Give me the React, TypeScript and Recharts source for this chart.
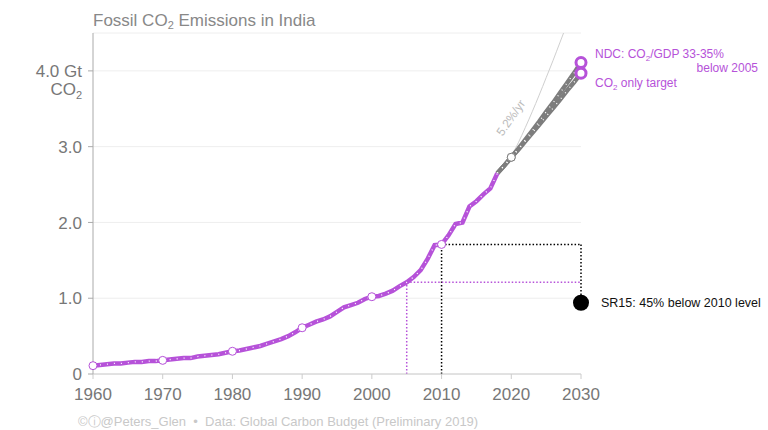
import React from 'react';
import {
  ComposedChart,
  Line,
  XAxis,
  YAxis,
  CartesianGrid,
  ReferenceLine,
  ReferenceDot,
} from 'recharts';

// India fossil CO2, Gt CO2, 1960-2018
const emissions = [
  0.11, 0.12, 0.13, 0.14, 0.14, 0.15, 0.16, 0.16, 0.17, 0.17,
  0.18, 0.19, 0.2, 0.21, 0.21, 0.23, 0.24, 0.25, 0.26, 0.28,
  0.3, 0.31, 0.33, 0.35, 0.37, 0.4, 0.43, 0.46, 0.5, 0.55,
  0.61, 0.65, 0.69, 0.72, 0.76, 0.82, 0.88, 0.91, 0.94, 0.99,
  1.02, 1.03, 1.06, 1.1, 1.16, 1.21, 1.28, 1.37, 1.52, 1.7,
  1.71, 1.83, 1.98, 2.0, 2.21, 2.28, 2.37, 2.45, 2.65,
];
const firstYear = 1960;

const projYears = [2018, 2019, 2020, 2021, 2022, 2023, 2024, 2025, 2026, 2027, 2028, 2029, 2030];
const ndcUpper = [2.65, 2.75, 2.86, 2.97, 3.09, 3.21, 3.33, 3.46, 3.58, 3.71, 3.84, 3.97, 4.11];
const ndcLower = [2.65, 2.75, 2.86, 2.96, 3.07, 3.18, 3.29, 3.4, 3.51, 3.62, 3.74, 3.85, 3.97];

const trendYears = [2020, 2021, 2022, 2023, 2024, 2025, 2026, 2027, 2028];
const trend = [2.87, 3.05, 3.25, 3.46, 3.68, 3.91, 4.14, 4.38, 4.62];

const sr15Target = 0.94;

const xTicks = [1960, 1970, 1980, 1990, 2000, 2010, 2020, 2030];
const yTicks = [0, 1, 2, 3, 4];

const purple = '#b652d9';
const gray = '#7d7d7d';
const font = '"Liberation Sans", Arial, sans-serif';

const valueAt = (y: number) => emissions[y - firstYear];

const data: any[] = [];
for (let y = firstYear; y <= 2030; y++) {
  const row: any = { year: y };
  if (y - firstYear < emissions.length) row.hist = emissions[y - firstYear];
  const p = projYears.indexOf(y);
  if (p >= 0) {
    row.upper = ndcUpper[p];
    row.lower = ndcLower[p];
  }
  const t = trendYears.indexOf(y);
  if (t >= 0) row.trend = trend[t];
  data.push(row);
}

const YTick = (props: any) => {
  const { x, y, payload } = props;
  const v = payload.value;
  const style = { fontSize: 17, fill: '#777', fontFamily: font };
  if (v === 4) {
    return (
      <text x={x} y={y} textAnchor="end" style={style}>
        <tspan x={x} dy="0.36em">4.0 Gt</tspan>
        <tspan x={x} dy="17.5">
          CO<tspan fontSize={11} dy="4">2</tspan>
        </tspan>
      </text>
    );
  }
  return (
    <text x={x} y={y} dy="0.36em" textAnchor="end" style={style}>
      {v === 0 ? '0' : v.toFixed(1)}
    </text>
  );
};

const histDot = (props: any) => {
  const { cx, cy, payload, index } = props;
  if (cy == null || payload.year % 10 !== 0) return <g key={'h' + index} />;
  return <circle key={'h' + index} cx={cx} cy={cy} r={4} fill="#fff" stroke={purple} strokeWidth={1} />;
};

const projDot = (props: any) => {
  const { cx, cy, payload, index } = props;
  if (cy == null) return <g key={'p' + index} />;
  if (payload.year === 2020)
    return <circle key={'p' + index} cx={cx} cy={cy} r={4} fill="#fff" stroke={gray} strokeWidth={1} />;
  if (payload.year === 2030)
    return <circle key={'p' + index} cx={cx} cy={cy} r={5} fill="#fff" stroke={purple} strokeWidth={3} />;
  return <g key={'p' + index} />;
};

const whiteDots = { stroke: '#fff', strokeWidth: 1.3, strokeDasharray: '1 6' };

export default function App() {
  const v2010 = valueAt(2010);
  const v2005 = valueAt(2005);
  return (
    <div style={{ position: 'absolute', left: 0, top: 0, width: 768, height: 430, fontFamily: font, background: '#fff' }}>
      <div style={{ position: 'absolute', left: 93, top: 12, fontSize: 17, lineHeight: 1, color: '#888' }}>
        Fossil CO<sub style={{ fontSize: 11, verticalAlign: -3 }}>2</sub> Emissions in India
      </div>
      <ComposedChart
        width={768}
        height={430}
        data={data}
        margin={{ top: 33, right: 187, bottom: 26, left: 0 }}
      >
        <CartesianGrid vertical={false} stroke="#eeeeee" />
        <XAxis
          dataKey="year"
          type="number"
          domain={[1960, 2030]}
          ticks={xTicks}
          height={30}
          axisLine={{ stroke: '#cccccc' }}
          tickLine={{ stroke: '#cccccc' }}
          tickSize={5}
          tickMargin={9}
          tick={{ fontSize: 17, fill: '#777', fontFamily: font }}
        />
        <YAxis
          type="number"
          domain={[0, 4.5]}
          ticks={yTicks}
          allowDataOverflow
          width={93}
          axisLine={{ stroke: '#aaaaaa' }}
          tickLine={{ stroke: '#aaaaaa' }}
          tickSize={5}
          tickMargin={6}
          tick={<YTick />}
        />
        <ReferenceLine segment={[{ x: 2010, y: 0 }, { x: 2010, y: v2010 }]} stroke="#000" strokeWidth={1.5} strokeDasharray="1.5 2" />
        <ReferenceLine segment={[{ x: 2010, y: v2010 }, { x: 2030, y: v2010 }]} stroke="#000" strokeWidth={1.5} strokeDasharray="1.5 2" />
        <ReferenceLine segment={[{ x: 2030, y: v2010 }, { x: 2030, y: sr15Target }]} stroke="#000" strokeWidth={1.5} strokeDasharray="1.5 2" />
        <ReferenceLine segment={[{ x: 2005, y: 0 }, { x: 2005, y: v2005 }]} stroke={purple} strokeWidth={1.5} strokeDasharray="1.5 2" />
        <ReferenceLine segment={[{ x: 2005, y: v2005 }, { x: 2030, y: v2005 }]} stroke={purple} strokeWidth={1.5} strokeDasharray="1.5 2" />

        <Line dataKey="trend" type="monotone" stroke="#cfcfcf" strokeWidth={1} dot={false} activeDot={false} isAnimationActive={false} />

        <Line dataKey="lower" stroke={gray} strokeWidth={4.5} dot={false} activeDot={false} isAnimationActive={false} />
        <Line dataKey="upper" stroke={gray} strokeWidth={4.5} dot={false} activeDot={false} isAnimationActive={false} />
        <Line dataKey="lower" {...whiteDots} dot={false} activeDot={false} isAnimationActive={false} />
        <Line dataKey="upper" {...whiteDots} dot={projDot} activeDot={false} isAnimationActive={false} />
        <Line dataKey="lower" stroke="none" dot={projDot} activeDot={false} isAnimationActive={false} />

        <Line dataKey="hist" stroke={purple} strokeWidth={4.5} dot={false} activeDot={false} isAnimationActive={false} />
        <Line dataKey="hist" {...whiteDots} dot={histDot} activeDot={false} isAnimationActive={false} />

        <ReferenceDot
          x={2030}
          y={sr15Target}
          r={8}
          shape={(p: any) => (
            <g>
              <circle cx={p.cx} cy={p.cy} r={8} fill="#000" />
              <text x={p.cx + 20} y={p.cy + 4} fontSize={12.5} fill="#111" fontFamily={font}>
                SR15: 45% below 2010 level
              </text>
            </g>
          )}
        />
        <ReferenceDot
          x={2030}
          y={ndcUpper[ndcUpper.length - 1]}
          r={0}
          shape={(p: any) => (
            <g fontSize={12} fill={purple} fontFamily={font}>
              <text x={p.cx + 14} y={p.cy - 5}>
                NDC: CO<tspan fontSize={8} dy="3">2</tspan>
                <tspan dy="-3">/GDP 33-35%</tspan>
              </text>
              <text x={758} y={p.cy + 9} textAnchor="end">below 2005</text>
              <text x={p.cx + 14} y={p.cy + 24}>
                CO<tspan fontSize={8} dy="3">2</tspan>
                <tspan dy="-3"> only target</tspan>
              </text>
            </g>
          )}
        />
        <ReferenceDot
          x={2020.4}
          y={3.35}
          r={0}
          shape={(p: any) => (
            <text
              x={p.cx}
              y={p.cy}
              fontSize={12}
              fill="#bbbbbb"
              fontFamily={font}
              textAnchor="middle"
              transform={`rotate(-55 ${p.cx} ${p.cy})`}
            >
              5.2%/yr
            </text>
          )}
        />
      </ComposedChart>
      <div style={{ position: 'absolute', left: 78, top: 415, fontSize: 13, lineHeight: 1, color: '#c8c8c8', whiteSpace: 'nowrap' }}>
        ©ⓘ@Peters_Glen&nbsp;&nbsp;•&nbsp;&nbsp;Data: Global Carbon Budget (Preliminary 2019)
      </div>
    </div>
  );
}
